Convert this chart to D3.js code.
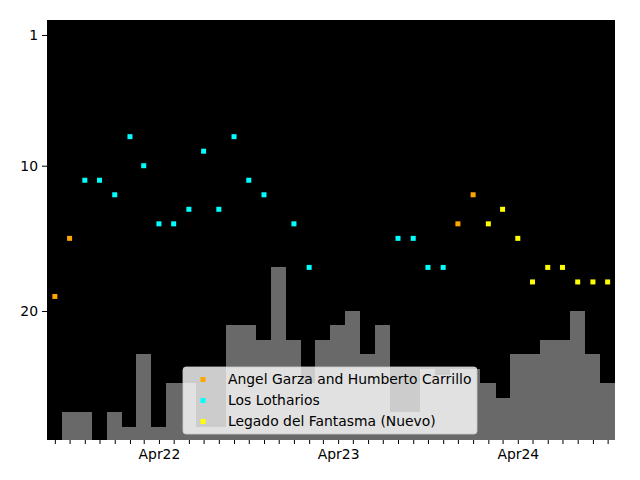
<!DOCTYPE html>
<html>
<head>
<meta charset="utf-8">
<script src="https://cdn.jsdelivr.net/npm/d3@7"></script>
<style>
  body { margin: 0; background: #fff; }
  text { font-family: "DejaVu Sans", sans-serif; }
</style>
</head>
<body>
<div id="chart"></div>
<script>
// Monthly categories (bars) and match counts
var months = ["2021-09","2021-10","2021-11","2021-12","2022-01","2022-02","2022-03","2022-04",
  "2022-05","2022-06","2022-07","2022-08","2022-09","2022-10","2022-11","2022-12",
  "2023-01","2023-02","2023-03","2023-04","2023-05","2023-06","2023-07","2023-08",
  "2023-09","2023-10","2023-11","2023-12","2024-01","2024-02","2024-03","2024-04",
  "2024-05","2024-06","2024-07","2024-08","2024-09","2024-10"];
var barCounts = [0,2,2,0,2,1,6,1, 4,4,1,1,8,8,7,12, 7,4,7,8,9,6,8,2, 2,5,4.6,5,5,4,3,6, 6,7,7,9,6,4];

// Ranking series
var seriesNames = ["Angel Garza and Humberto Carrillo", "Los Lotharios", "Legado del Fantasma (Nuevo)"];
var seriesColors = ["#ffa500", "#00ffff", "#ffff00"];

var angelMonths = ["2021-09","2021-10","2023-12","2024-01"];
var angelRanks = [19,15,14,12];

var lothariosMonths = ["2021-11","2021-12","2022-01","2022-02","2022-03","2022-04","2022-05","2022-06",
  "2022-07","2022-08","2022-09","2022-10","2022-11","2023-01","2023-02","2023-08","2023-09","2023-10","2023-11"];
var lothariosRanks = [11,11,12,8,10,14,14,13, 9,13,8,11,12,14,17,15,15,17,17];

var legadoMonths = ["2024-02","2024-03","2024-04","2024-05","2024-06","2024-07","2024-08","2024-09","2024-10"];
var legadoRanks = [14,13,15,18,17,17,18,18,18];

var yTicks = [1, 10, 20];

var parseMonth = d3.timeParse("%Y-%m");

var svgWidth = 640, svgHeight = 480;
var margin = { top: 20, right: 25, bottom: 40, left: 47 };
var width = svgWidth - margin.left - margin.right;
var height = svgHeight - margin.top - margin.bottom;

var svg = d3.select("#chart").append("svg")
  .attr("width", svgWidth)
  .attr("height", svgHeight);

var chartGroup = svg.append("g")
  .attr("transform", `translate(${margin.left}, ${margin.top})`);

// scales
var xScale = d3.scaleTime()
  .domain([d3.timeDay.offset(parseMonth(months[0]), -15.5), d3.timeDay.offset(parseMonth(months[months.length - 1]), 15.5)])
  .range([0, width]);

var yRank = d3.scaleLinear()
  .domain([28.88, -0.03])
  .range([height, 0]);

var yBar = d3.scaleLinear()
  .domain([0.103, 28.98])
  .range([height, 0]);

chartGroup.append("rect")
  .attr("width", width)
  .attr("height", height)
  .attr("fill", "#000");

// bars
chartGroup.selectAll(".bar")
  .data(months.map(function(m, i) { return { date: parseMonth(m), count: barCounts[i] }; }))
  .enter()
  .append("rect")
  .attr("class", "bar")
  .attr("x", d => xScale(d3.timeDay.offset(d.date, -15.5)))
  .attr("width", d => xScale(d3.timeDay.offset(d.date, 15.7)) - xScale(d3.timeDay.offset(d.date, -15.5)))
  .attr("y", d => yBar(d.count))
  .attr("height", d => Math.max(0, height - yBar(d.count)))
  .attr("fill", "#696969")
  .attr("shape-rendering", "crispEdges");

// points
var series = [
  { months: angelMonths, ranks: angelRanks },
  { months: lothariosMonths, ranks: lothariosRanks },
  { months: legadoMonths, ranks: legadoRanks }
];
var sq = 5;
series.forEach(function(s, k) {
  chartGroup.selectAll(".pt" + k)
    .data(s.months.map(function(m, i) { return { date: parseMonth(m), rank: s.ranks[i] }; }))
    .enter()
    .append("rect")
    .attr("class", "pt" + k)
    .attr("x", d => xScale(d.date) - sq / 2)
    .attr("y", d => yRank(d.rank) - sq / 2)
    .attr("width", sq)
    .attr("height", sq)
    .attr("fill", seriesColors[k]);
});

// axes
var leftAxis = d3.axisLeft(yRank).tickValues(yTicks).tickSize(5).tickPadding(4);
var yAxisG = chartGroup.append("g").call(leftAxis);
yAxisG.select(".domain").remove();
yAxisG.selectAll("text").style("font-size", "13.9px").attr("fill", "#000");

var bottomAxis = d3.axisBottom(xScale)
  .ticks(d3.timeMonth.every(1))
  .tickSize(4)
  .tickPadding(5)
  .tickFormat(d => d.getMonth() === 3 ? d3.timeFormat("%b%y")(d) : "");
var xAxisG = chartGroup.append("g")
  .attr("transform", `translate(0, ${height})`)
  .call(bottomAxis);
xAxisG.select(".domain").remove();
xAxisG.selectAll("text").style("font-size", "13.9px").attr("fill", "#000");

// legend
var legend = svg.append("g").attr("transform", "translate(183, 367)");
legend.append("rect")
  .attr("width", 294)
  .attr("height", 67)
  .attr("rx", 3)
  .attr("fill", "#fff")
  .attr("fill-opacity", 0.8)
  .attr("stroke", "#ccc")
  .attr("stroke-opacity", 0.8);
seriesNames.forEach(function(name, i) {
  var row = legend.append("g").attr("transform", `translate(0, ${12.5 + i * 21})`);
  row.append("rect")
    .attr("x", 20 - sq / 2)
    .attr("y", -sq / 2)
    .attr("width", sq)
    .attr("height", sq)
    .attr("fill", seriesColors[i]);
  row.append("text")
    .attr("x", 45)
    .attr("dy", "0.35em")
    .style("font-size", "13.9px")
    .attr("fill", "#000")
    .text(name);
});
</script>
</body>
</html>
